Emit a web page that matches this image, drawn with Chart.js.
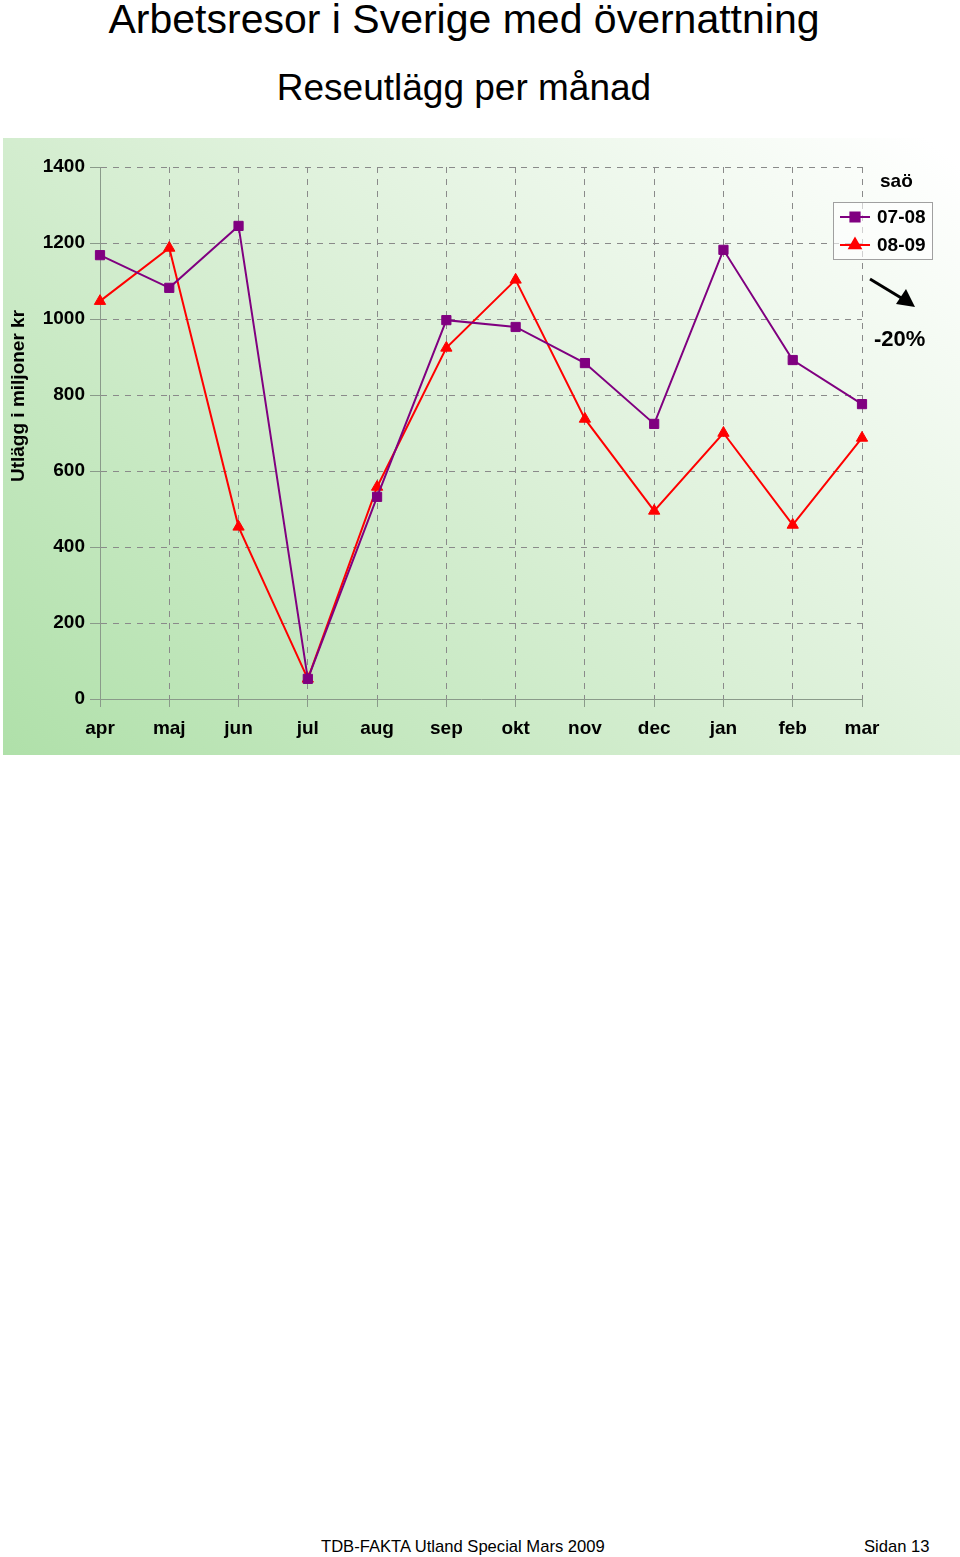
<!DOCTYPE html>
<html>
<head>
<meta charset="utf-8">
<script src="https://cdn.jsdelivr.net/npm/chart.js@4/dist/chart.umd.min.js"></script>
<style>
  body { margin: 0; width: 960px; height: 1557px; background: #fff; position: relative; font-family: "Liberation Sans", Arial, sans-serif; overflow: hidden; }
  .t { position: absolute; white-space: nowrap; color: #000; }
  #title { left: 0; width: 928px; text-align: center; top: -4px; font-size: 41px; }
  #subtitle { left: 0; width: 928px; text-align: center; top: 67px; font-size: 37px; }
  #wrap { position: absolute; left: 3px; top: 138px; width: 957px; height: 617px; }
  .foot { top: 1537px; font-size: 16.6px; }
</style>
</head>
<body>
<div class="t" id="title">Arbetsresor i Sverige med övernattning</div>
<div class="t" id="subtitle">Reseutlägg per månad</div>
<div id="wrap"><canvas id="chart" width="957" height="617"></canvas></div>
<div class="t foot" style="left:321px">TDB-FAKTA Utland Special Mars 2009</div>
<div class="t foot" style="left:864px">Sidan 13</div>
<script>
const months = ['apr', 'maj', 'jun', 'jul', 'aug', 'sep', 'okt', 'nov', 'dec', 'jan', 'feb', 'mar'];
const series0708 = [1168, 1082, 1245, 53, 532, 997, 979, 884, 724, 1182, 892, 776];
const series0809 = [1047, 1187, 453, 53, 558, 924, 1103, 737, 495, 700, 458, 687];
const seriesNames = ['07-08', '08-09'];
const yTitle = 'Utlägg i miljoner kr';
const legendTitle = 'saö';
const changeLabel = '-20%';

const FONT = '"Liberation Sans", Arial, sans-serif';

// bakgrund, axeltitel, legend och pil
const decor = {
  id: 'decor',
  beforeDraw(chart) {
    const ctx = chart.ctx;
    const w = chart.width, h = chart.height;
    const g = ctx.createLinearGradient(0, h, w * 0.75, -h * 0.3);
    g.addColorStop(0, '#afe0a9');
    g.addColorStop(0.5, '#d9efd5');
    g.addColorStop(1, '#ffffff');
    ctx.save();
    ctx.fillStyle = g;
    ctx.fillRect(0, 0, w, h);
    ctx.restore();
  },
  afterDraw(chart) {
    const ctx = chart.ctx;
    ctx.save();
    ctx.fillStyle = '#000';
    ctx.font = 'bold 19px ' + FONT;
    ctx.textAlign = 'center';
    ctx.textBaseline = 'middle';
    ctx.translate(16, 258);
    ctx.rotate(-Math.PI / 2);
    ctx.fillText(yTitle, 0, 0);
    ctx.restore();

    // legend
    ctx.save();
    ctx.font = 'bold 19px ' + FONT;
    ctx.textBaseline = 'middle';
    ctx.fillStyle = '#000';
    ctx.fillText(legendTitle, 877, 44);
    ctx.fillStyle = 'rgba(255,255,255,0.6)';
    ctx.fillRect(830.5, 64.5, 99, 57);
    ctx.strokeStyle = '#a0a0a0';
    ctx.lineWidth = 1;
    ctx.strokeRect(830.5, 64.5, 99, 57);
    chart.data.datasets.forEach((ds, i) => {
      const y = 79 + i * 28;
      ctx.strokeStyle = ds.borderColor;
      ctx.lineWidth = 2;
      ctx.beginPath();
      ctx.moveTo(837, y);
      ctx.lineTo(867, y);
      ctx.stroke();
      ctx.fillStyle = ds.borderColor;
      Chart.helpers.drawPoint(ctx, { pointStyle: ds.pointStyle, radius: ds.pointRadius, rotation: 0, borderWidth: 1 }, 852, y);
      ctx.fill();
      ctx.fillStyle = '#000';
      ctx.fillText(seriesNames[i], 874, y + 1);
    });
    ctx.restore();

    // pil
    ctx.save();
    ctx.strokeStyle = '#000';
    ctx.fillStyle = '#000';
    ctx.lineWidth = 3;
    ctx.beginPath();
    ctx.moveTo(867, 141);
    ctx.lineTo(900, 161);
    ctx.stroke();
    ctx.beginPath();
    ctx.moveTo(912, 169);
    ctx.lineTo(893, 166);
    ctx.lineTo(903, 151);
    ctx.closePath();
    ctx.fill();
    ctx.font = 'bold 22px ' + FONT;
    ctx.textBaseline = 'middle';
    ctx.fillText(changeLabel, 871, 202);
    ctx.restore();
  }
};

new Chart(document.getElementById('chart'), {
  type: 'line',
  data: {
    labels: months,
    datasets: [
      {
        label: seriesNames[0],
        data: series0708,
        borderColor: '#800080',
        backgroundColor: '#800080',
        borderWidth: 2,
        pointStyle: 'rect',
        pointRadius: 6.5,
        pointBorderWidth: 1,
        tension: 0
      },
      {
        label: seriesNames[1],
        data: series0809,
        borderColor: '#ff0000',
        backgroundColor: '#ff0000',
        borderWidth: 2,
        pointStyle: 'triangle',
        pointRadius: 6.5,
        pointBorderWidth: 1,
        tension: 0
      }
    ]
  },
  options: {
    responsive: false,
    animation: false,
    layout: { padding: { top: 29, right: 98, left: 0, bottom: 0 } },
    plugins: { legend: { display: false }, tooltip: { enabled: false } },
    scales: {
      x: {
        offset: false,
        afterFit(scale) { scale.height = 56; },
        grid: { color: '#8a8a8a', lineWidth: 1, tickLength: 8, tickColor: '#8a9a8a', drawOnChartArea: true },
        border: { display: true, color: '#8a9a8a', width: 1, dash: [6, 6] },
        ticks: { color: '#000', font: { family: FONT, size: 19, weight: 'bold' }, padding: 10, maxRotation: 0 }
      },
      y: {
        min: 0,
        max: 1400,
        afterFit(scale) { scale.width = 97; },
        ticks: {
          stepSize: 200,
          color: '#000',
          font: { family: FONT, size: 19, weight: 'bold' },
          padding: 5,
          callback: v => String(v)
        },
        grid: { color: '#8a8a8a', lineWidth: 1, tickLength: 10, tickColor: '#8a9a8a' },
        border: { display: true, color: '#8a9a8a', width: 1, dash: [6, 6] }
      }
    }
  },
  plugins: [decor]
});
</script>
</body>
</html>
